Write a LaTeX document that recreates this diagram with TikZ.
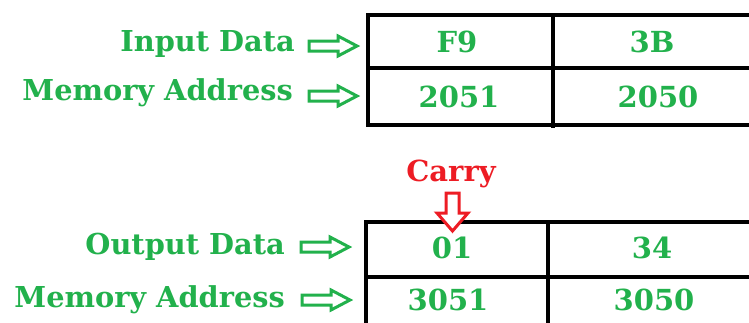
\documentclass[tikz,border=0pt]{standalone}
\usepackage{fontspec}
\setmainfont{DejaVu Serif}
\definecolor{pgreen}{RGB}{34,177,76}
\definecolor{pred}{RGB}{237,28,36}
\tikzset{
  lbl/.style={text=pgreen,font=\bfseries\fontsize{28.8}{29}\selectfont,inner sep=0pt,anchor=east},
  val/.style={text=pgreen,font=\bfseries\fontsize{29}{29}\selectfont,inner sep=0pt},
  grid/.style={line width=3.5pt,draw=black},
  rarrow/.style={draw=pgreen,fill=white,line width=3pt,line join=miter},
  darrow/.style={draw=pred,fill=white,line width=3pt,line join=miter},
}
\begin{document}
\begin{tikzpicture}[x=1pt,y=-1pt]
\useasboundingbox (0,0) rectangle (749,322);
% top table
\draw[grid] (760,15) -- (368,15) -- (368,125) -- (760,125);
\draw[grid] (368,68) -- (760,68);
\draw[grid] (553,15) -- (553,128);
% bottom table
\draw[grid] (760,222) -- (366,222) -- (366,330);
\draw[grid] (366,277) -- (760,277);
\draw[grid] (548,222) -- (548,330);
% labels
\node[lbl] (in) at (295,44) {Input Data};
\node[lbl] (ma1) at (293,93) {Memory Address};
\node[lbl] (out) at (285,247) {Output Data};
\node[lbl] (ma2) at (285,300) {Memory Address};
% values
\node[val] (f9) at (457,42) {F9};
\node[val] (b3) at (652,42) {3B};
\node[val] (a2051) at (459,97) {2051};
\node[val] (a2050) at (658,97) {2050};
\node[val] (o01) at (452,248) {01};
\node[val] (o34) at (652,248) {34};
\node[val] (a3051) at (448,300) {3051};
\node[val] (a3050) at (654,300) {3050};
\node[text=pred,font=\bfseries\fontsize{29}{29}\selectfont,inner sep=0pt] (carry) at (451,174) {Carry};
% block arrows
\foreach \x/\y in {309/46, 309/96, 301/247, 302/300}{
  \draw[rarrow] (\x,\y-5) -- ++(29,0) -- ++(0,-5) -- ++(19,10) -- ++(-19,10) -- ++(0,-5) -- ++(-29,0) -- cycle;
}
\draw[darrow] (446,193) -- ++(13,0) -- ++(0,20) -- ++(9,0) -- ++(-15.5,18) -- ++(-15.5,-18) -- ++(9,0) -- cycle;
\end{tikzpicture}
\end{document}
